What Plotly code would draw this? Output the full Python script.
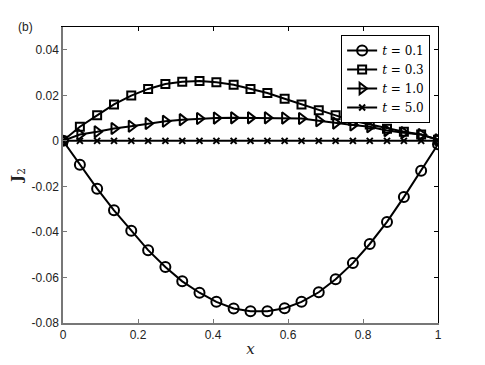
import plotly.graph_objects as go

# grid positions (23 nodes on [0, 1])
x_vals = [0.000, 0.045, 0.091, 0.136, 0.182, 0.227, 0.273, 0.318, 0.364, 0.409, 0.455, 0.500,
          0.545, 0.591, 0.636, 0.682, 0.727, 0.773, 0.818, 0.864, 0.909, 0.955, 1.000]

# J2 for each time
j2_t01 = [0.0, -0.0105, -0.0210, -0.0305, -0.0395, -0.0480, -0.0554, -0.0617, -0.0667, -0.0707,
          -0.0736, -0.0748, -0.0748, -0.0735, -0.0707, -0.0665, -0.0608, -0.0537, -0.0453,
          -0.0356, -0.0247, -0.0131, -0.0015]
j2_t03 = [0.0, 0.0062, 0.0112, 0.0160, 0.0199, 0.0228, 0.0250, 0.0260, 0.0263, 0.0257, 0.0246,
          0.0228, 0.0210, 0.0185, 0.0160, 0.0134, 0.0112, 0.0088, 0.0072, 0.0053, 0.0040,
          0.0028, 0.0005]
j2_t10 = [0.0, 0.0028, 0.0040, 0.0054, 0.0064, 0.0076, 0.0086, 0.0093, 0.0098, 0.0100, 0.0101,
          0.0101, 0.0101, 0.0100, 0.0098, 0.0088, 0.0078, 0.0070, 0.0062, 0.0045, 0.0036,
          0.0028, 0.0005]
j2_t50 = [0.0, 0.0, 0.0, 0.0, 0.0, 0.0, 0.0, 0.0, 0.0, 0.0, 0.0, 0.0,
          0.0, 0.0, 0.0, 0.0, 0.0, 0.0, 0.0, 0.0, 0.0, 0.0, 0.0]

series = [
    ("<i>t</i> = 0.1", j2_t01, "circle-open", 10),
    ("<i>t</i> = 0.3", j2_t03, "square-open", 8),
    ("<i>t</i> = 1.0", j2_t10, "triangle-right-open", 10),
    ("<i>t</i> = 5.0", j2_t50, "x-thin-open", 6),
]

x_ticks = [0, 0.2, 0.4, 0.6, 0.8, 1]
x_ticktext = ["0", "0.2", "0.4", "0.6", "0.8", "1"]
y_ticks = [-0.08, -0.06, -0.04, -0.02, 0, 0.02, 0.04]
y_ticktext = ["-0.08", "-0.06", "-0.04", "-0.02", "0", "0.02", "0.04"]

fig = go.Figure()
for name, yv, sym, size in series:
    fig.add_trace(go.Scatter(
        x=x_vals, y=yv, mode="lines+markers", name=name,
        line=dict(color="black", width=2),
        marker=dict(symbol=sym, size=size, color="black", line=dict(color="black", width=2)),
    ))

# dummy trace so the mirrored top/right axes get drawn
fig.add_trace(go.Scatter(x=[None], y=[None], xaxis="x2", yaxis="y2", showlegend=False))

tick_font = dict(family="Liberation Sans, Arial, sans-serif", size=12, color="#222")
serif = "DejaVu Serif, serif"

# page body adds an 8px margin, so the figure margins are shifted to compensate
fig.update_layout(
    width=485, height=365,
    margin=dict(l=55, r=55, t=19, b=50, autoexpand=False),
    plot_bgcolor="white", paper_bgcolor="white",
    xaxis=dict(range=[0, 1], tickvals=x_ticks, ticktext=x_ticktext, ticks="inside", ticklen=4,
               tickcolor="#777", showgrid=False, zeroline=False, showline=True,
               linecolor="#777", linewidth=1.5, tickfont=tick_font, automargin=False,
               title=dict(text="<i>x</i>", font=dict(family=serif, size=15, color="#222"),
                          standoff=2)),
    yaxis=dict(range=[-0.08, 0.05], tickvals=y_ticks, ticktext=y_ticktext, ticks="inside",
               ticklen=4, tickcolor="#777", showgrid=False, zeroline=False, showline=True,
               linecolor="#777", linewidth=1.5, tickfont=tick_font, automargin=False,
               title=dict(text="<b>J</b><sub>2</sub>",
                          font=dict(family=serif, size=15, color="#222"), standoff=6)),
    xaxis2=dict(overlaying="x", matches="x", side="top", anchor="y", showticklabels=False,
                tickvals=x_ticks, ticks="inside", ticklen=4, tickcolor="black",
                showgrid=False, zeroline=False, showline=True, linecolor="black", linewidth=1,
                automargin=False),
    yaxis2=dict(overlaying="y", matches="y", side="right", anchor="x", showticklabels=False,
                tickvals=y_ticks, ticks="inside", ticklen=4, tickcolor="black",
                showgrid=False, zeroline=False, showline=True, linecolor="black", linewidth=1,
                automargin=False),
    legend=dict(x=0.979, y=0.973, xanchor="right", yanchor="top", bgcolor="white",
                bordercolor="black", borderwidth=1,
                font=dict(family=serif, size=12, color="black"),
                tracegroupgap=1),
    annotations=[dict(text="(b)", xref="paper", yref="paper", x=-0.125, y=1.0,
                      xanchor="left", yanchor="middle", showarrow=False,
                      font=dict(family="Liberation Sans, Arial, sans-serif", size=12,
                                color="#222"))],
)

fig.write_html("out.html")
